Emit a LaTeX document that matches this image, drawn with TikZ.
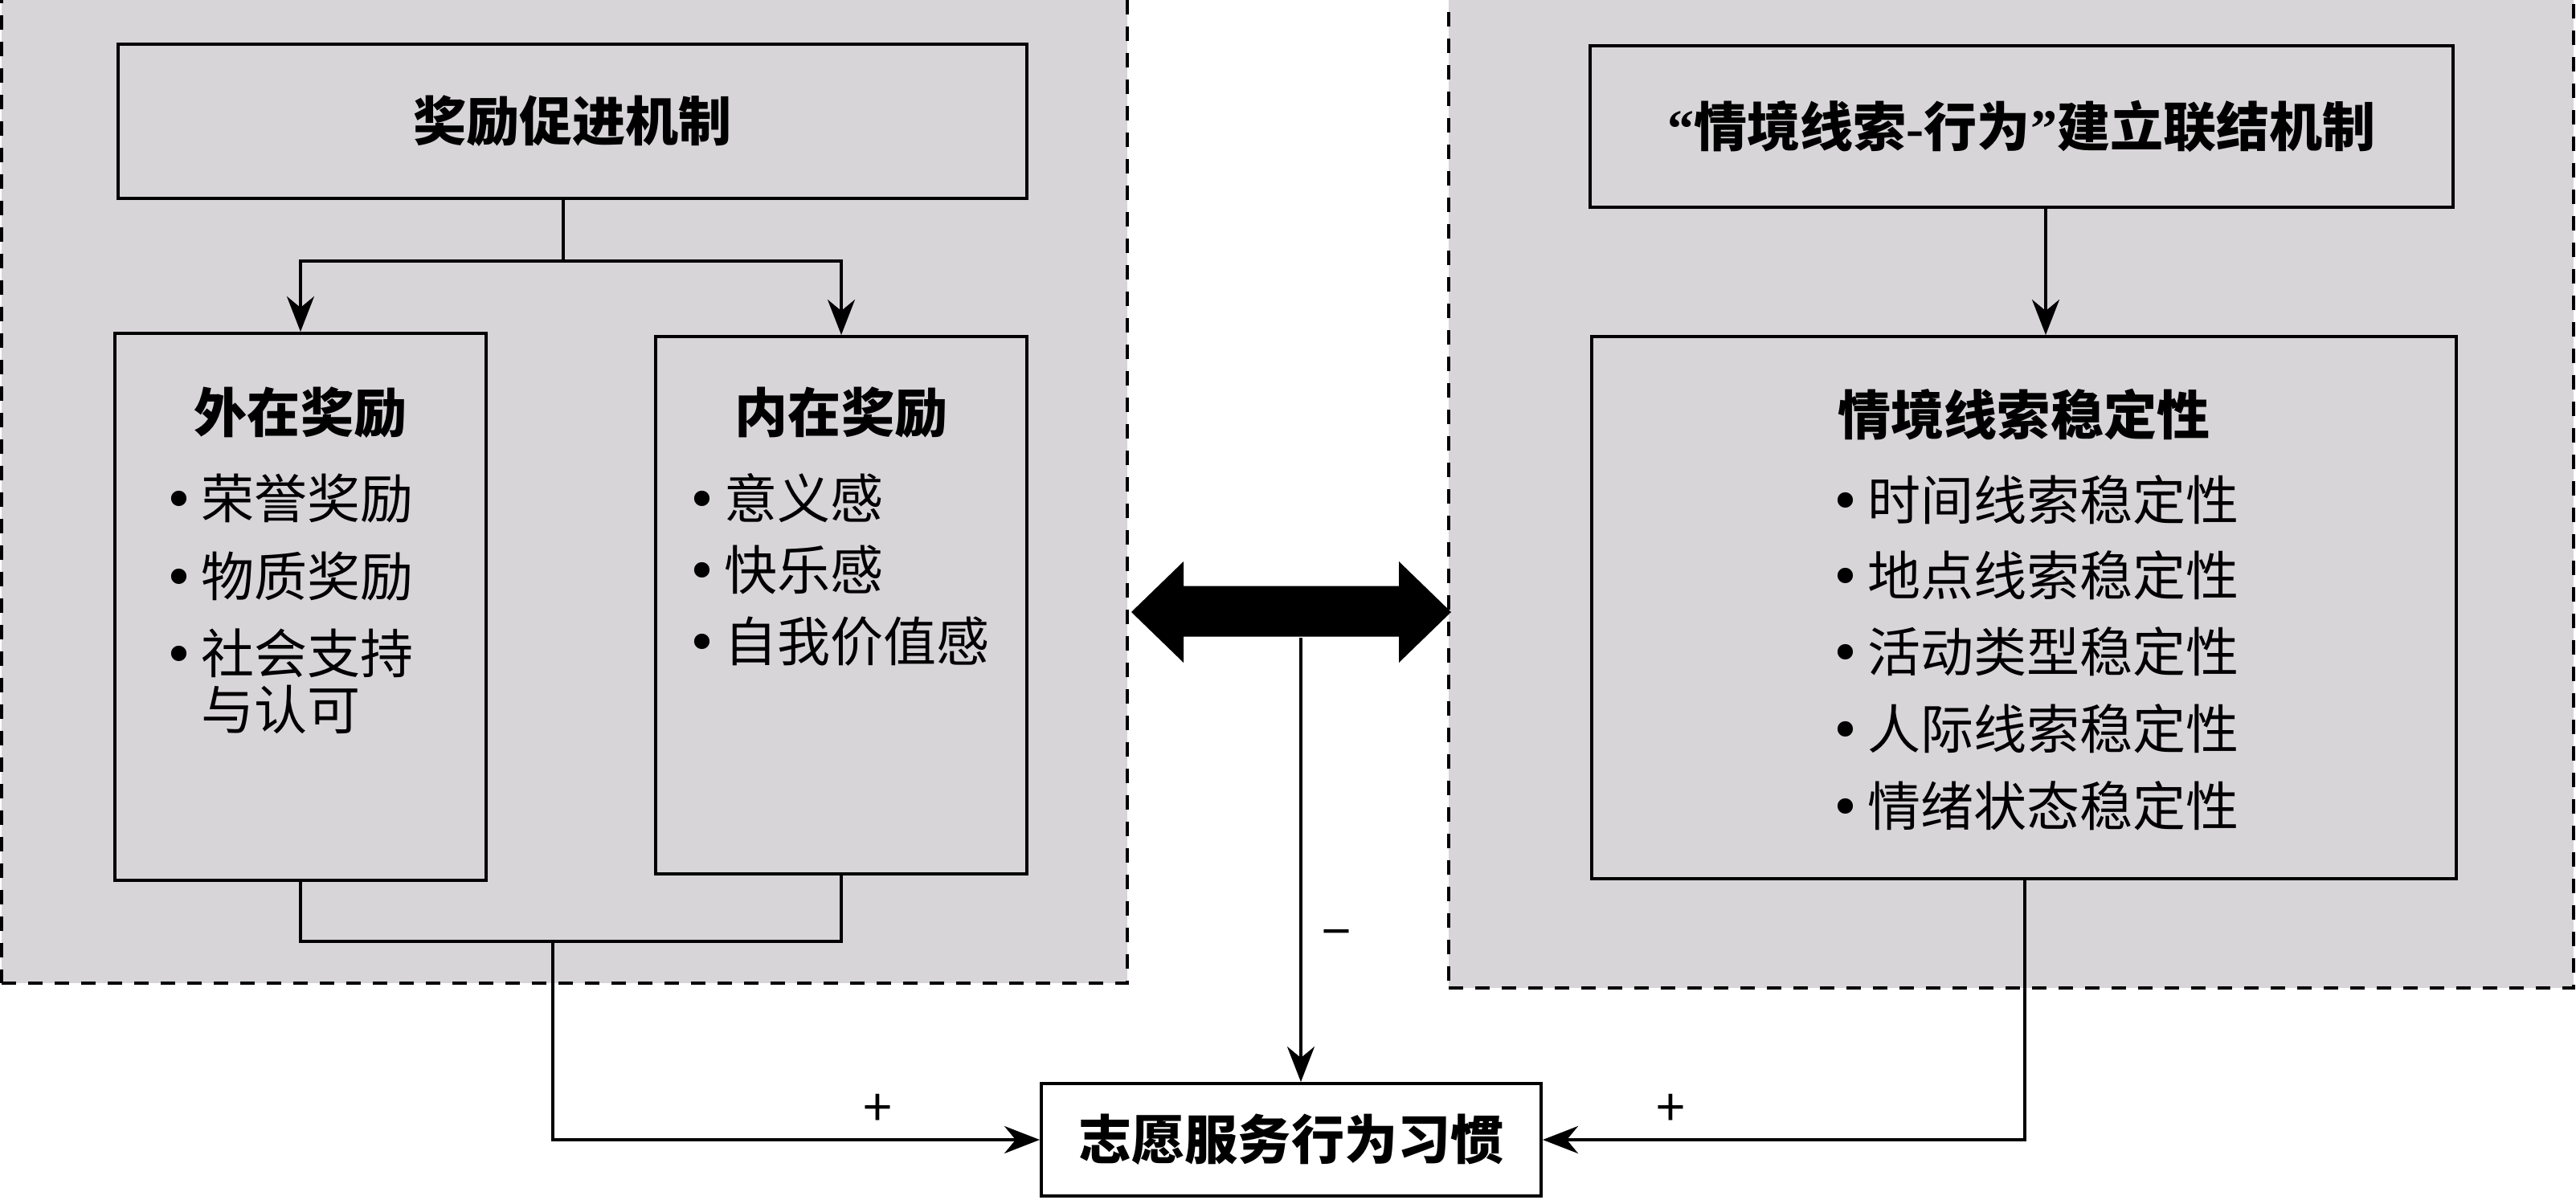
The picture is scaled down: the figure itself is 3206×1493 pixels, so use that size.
\documentclass[tikz,border=0pt]{standalone}
\usepackage{fontspec}
\setmainfont{Noto Sans CJK SC}
\newfontfamily\dejavu{DejaVu Sans}
\newfontfamily\latq{Liberation Serif}
\usetikzlibrary{arrows.meta,calc}
\definecolor{regfill}{RGB}{216,213,217}
\newcommand\bul{\llap{{\dejavu •}\kern 2mm}}
\begin{document}
\begin{tikzpicture}[x=0.25mm,y=-0.25mm,
  region/.style 2 args={draw=black, fill=regfill, line width=1mm, dash pattern=on 4.5mm off 3.75mm, inner sep=0pt, minimum width=#1*0.25mm, minimum height=#2*0.25mm},
  box/.style 2 args={draw=black, line width=1mm, inner sep=0pt, minimum width=#1*0.25mm, minimum height=#2*0.25mm},
  head/.style={font=\bfseries\fontsize{47pt}{56pt}\selectfont, inner sep=0pt},
  item/.style={font=\fontsize{47pt}{56pt}\selectfont, inner sep=0pt, anchor=west},
  sign/.style={font=\fontsize{46pt}{55pt}\selectfont, inner sep=0pt},
  conn/.style={line width=1mm},
  arr/.style={line width=1mm, -{Stealth[length=11mm, width=8.5mm, inset=3.5mm]}}]
\useasboundingbox (0,0) rectangle (3206,1493);
\clip (0,0) rectangle (3206,1493);
\fill[white] (0,0) rectangle (3206,1493);
% regions
\node[region={1401}{1264}] (regL) at (702.5,592) {};
\node[region={1400}{1270}] (regR) at (2503,595) {};
% left boxes
\node[box={1131}{192}, head] (topL) at (712.5,151) {奖励促进机制};
\node[box={462}{681}] (ext) at (374,755.5) {};
\node[box={462}{669}] (int) at (1047,753.5) {};
\node[head] (extT) at (374,514) {外在奖励};
\node[head] (intT) at (1047,514) {内在奖励};
\node[item] (e1) at (250,620) {\bul 荣誉奖励};
\node[item] (e2) at (250,717) {\bul 物质奖励};
\node[item] (e3) at (250,813) {\bul 社会支持};
\node[item] (e4) at (250,883) {与认可};
\node[item] (i1) at (901,620) {\bul 意义感};
\node[item] (i2) at (901,709) {\bul 快乐感};
\node[item] (i3) at (901,799) {\bul 自我价值感};
% right boxes
\node[box={1074}{201}, head] (topR) at (2516,157.5) {{\latq\bfseries “}情境线索{\latq\bfseries -}行为{\latq\bfseries ”}建立联结机制};
\node[box={1076}{675}] (cue) at (2519,756.5) {};
\node[head] (cueT) at (2519,516) {情境线索稳定性};
\node[item] (c1) at (2324,622) {\bul 时间线索稳定性};
\node[item] (c2) at (2324,716) {\bul 地点线索稳定性};
\node[item] (c3) at (2324,811) {\bul 活动类型稳定性};
\node[item] (c4) at (2324,907) {\bul 人际线索稳定性};
\node[item] (c5) at (2324,1003) {\bul 情绪状态稳定性};
% habit
\node[box={622}{140}, head, fill=white] (habit) at (1607,1419) {志愿服务行为习惯};
% connectors left
\coordinate (br) at (701,325);
\draw[conn] (topL.south -| br) -- (br);
\draw[arr] (br) -| (ext.north);
\draw[arr] (br) -| (int.north);
\coordinate (bj) at (688,1172);
\draw[conn] (ext.south) |- (bj) -| (int.south);
\draw[arr] (bj) |- (habit.west);
% connectors right
\coordinate (ra) at (2546,0);
\draw[arr] (topR.south -| ra) -- (cue.north -| ra);
\coordinate (rb) at (2520,0);
\draw[arr] (cue.south -| rb) |- (habit.east);
% double arrow
\coordinate (dl) at (1408,762);
\coordinate (dr) at (1806,762);
\fill[black] (dl) -- ++(65,-63) -- ++(0,30.5) -- ++(268,0) -- ++(0,-30.5) -- (dr) -- ++(-65,63) -- ++(0,-32.5) -- ++(-268,0) -- ++(0,32.5) -- cycle;
\coordinate (dm) at (1619,794);
\draw[arr] (dm) -- (dm |- habit.north);
% signs
\node[sign] (plusL) at (1092,1382) {+};
\node[sign] (plusR) at (2079,1382) {+};
\node[sign] (minus) at (1663,1170) {−};
\end{tikzpicture}
\end{document}
